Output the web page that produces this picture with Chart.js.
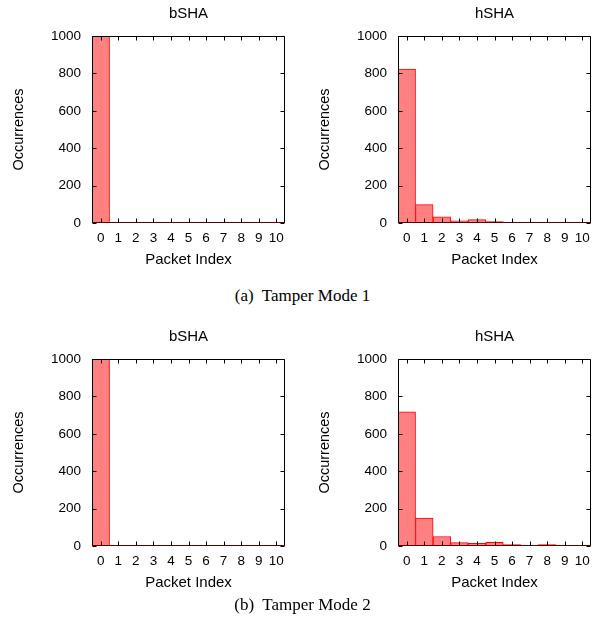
<!DOCTYPE html>
<html>
<head>
<meta charset="utf-8">
<script src="https://cdn.jsdelivr.net/npm/chart.js@4.4.1/dist/chart.umd.min.js"></script>
<style>
  html, body { margin: 0; padding: 0; background: #fff; }
  #wrap { position: relative; width: 605px; height: 628px; overflow: hidden; background: #fff; }
  .panel { position: absolute; width: 300px; height: 275px; }
  .cap { position: absolute; left: 0; width: 605px; text-align: center;
         font-family: "Liberation Serif", "Times New Roman", serif; font-size: 17px; color: #000;
         height: 20px; line-height: 20px; white-space: pre; }
</style>
</head>
<body>
<div id="wrap">
  <div class="panel" style="left:0;top:0"><canvas id="c1" width="300" height="275"></canvas></div>
  <div class="panel" style="left:306px;top:0"><canvas id="c2" width="300" height="275"></canvas></div>
  <div class="cap" style="top:286px">(a)  Tamper Mode 1</div>
  <div class="panel" style="left:0;top:323px"><canvas id="c3" width="300" height="275"></canvas></div>
  <div class="panel" style="left:306px;top:323px"><canvas id="c4" width="300" height="275"></canvas></div>
  <div class="cap" style="top:595px">(b)  Tamper Mode 2</div>
</div>
<script>
// ---- data ----
const packetIndex = ['0','1','2','3','4','5','6','7','8','9','10'];
const yTicks = [0, 200, 400, 600, 800, 1000];
const panelTitles = ['bSHA', 'hSHA'];
const bSHA_mode1 = [998, 2, 0, 0, 0, 0, 0, 0, 0, 0, 0];
const hSHA_mode1 = [823, 98, 33, 11, 18, 7, 4, 2, 2, 1, 1];
const bSHA_mode2 = [998, 2, 0, 0, 0, 0, 0, 0, 0, 0, 0];
const hSHA_mode2 = [718, 149, 51, 18, 14, 19, 8, 3, 7, 2, 4];

const SANS = '"Liberation Sans", Arial, Helvetica, sans-serif';

const framePlugin = {
  id: 'frame',
  afterDatasetsDraw(chart) {
    const { ctx, chartArea: a, scales: { x, y } } = chart;
    ctx.save();
    ctx.lineWidth = 1;
    const L = Math.round(a.left) + 0.5, R = Math.round(a.right) - 0.5;
    const T = Math.round(a.top) + 0.5, B = Math.round(a.bottom) - 0.5;
    ctx.strokeStyle = '#000';
    ctx.beginPath();
    ctx.moveTo(L, B); ctx.lineTo(L, T); ctx.lineTo(R, T); ctx.lineTo(R, B);
    ctx.stroke();
    ctx.strokeStyle = '#5a0000';
    ctx.beginPath();
    ctx.moveTo(L - 0.5, B); ctx.lineTo(R + 0.5, B);
    ctx.stroke();
    ctx.strokeStyle = '#000';
    const tl = 4;
    ctx.beginPath();
    x.ticks.forEach((t, i) => {
      const px = Math.round(x.getPixelForTick(i)) + 0.5;
      ctx.moveTo(px, B); ctx.lineTo(px, B - tl);
      ctx.moveTo(px, T); ctx.lineTo(px, T + tl);
    });
    y.ticks.forEach(t => {
      const py = Math.round(y.getPixelForValue(t.value)) + 0.5;
      ctx.moveTo(L, py); ctx.lineTo(L + tl, py);
      ctx.moveTo(R, py); ctx.lineTo(R - tl, py);
    });
    ctx.stroke();
    ctx.restore();
  }
};

function makeChart(id, title, values) {
  return new Chart(document.getElementById(id), {
    type: 'bar',
    data: {
      labels: packetIndex,
      datasets: [{
        data: values,
        backgroundColor: '#ff8080',
        borderColor: '#ff0000',
        borderWidth: 1,
        borderSkipped: false,
        barPercentage: 1.0,
        categoryPercentage: 1.0
      }]
    },
    options: {
      responsive: false,
      animation: false,
      devicePixelRatio: 1,
      layout: { padding: { left: 0, right: 15, top: 0, bottom: 0 } },
      plugins: {
        legend: { display: false },
        tooltip: { enabled: false },
        title: {
          display: true, text: title, color: '#000', fullSize: false,
          font: { family: SANS, size: 15, weight: 'normal' },
          padding: { top: 5, bottom: 13 }
        }
      },
      scales: {
        x: {
          type: 'category', offset: true,
          grid: { display: false, drawTicks: false },
          border: { display: false },
          ticks: { color: '#000', font: { family: SANS, size: 13.5 }, padding: 7, maxRotation: 0, autoSkip: false },
          title: { display: true, text: 'Packet Index', color: '#000',
                   font: { family: SANS, size: 15 }, padding: { top: 0, bottom: 6 } },
          afterFit(s) { s.height = 52; }
        },
        y: {
          min: 0, max: 1000,
          afterBuildTicks(s) { s.ticks = yTicks.map(v => ({ value: v })); },
          grid: { display: false, drawTicks: false },
          border: { display: false },
          ticks: { color: '#000', font: { family: SANS, size: 13.5 }, padding: 11,
                   callback: v => String(v) },
          title: { display: true, text: 'Occurrences', color: '#000',
                   font: { family: SANS, size: 14.5 }, padding: { top: 10, bottom: 0 } },
          afterFit(s) { s.width = 92; }
        }
      }
    },
    plugins: [framePlugin]
  });
}

makeChart('c1', panelTitles[0], bSHA_mode1);
makeChart('c2', panelTitles[1], hSHA_mode1);
makeChart('c3', panelTitles[0], bSHA_mode2);
makeChart('c4', panelTitles[1], hSHA_mode2);
</script>
</body>
</html>
